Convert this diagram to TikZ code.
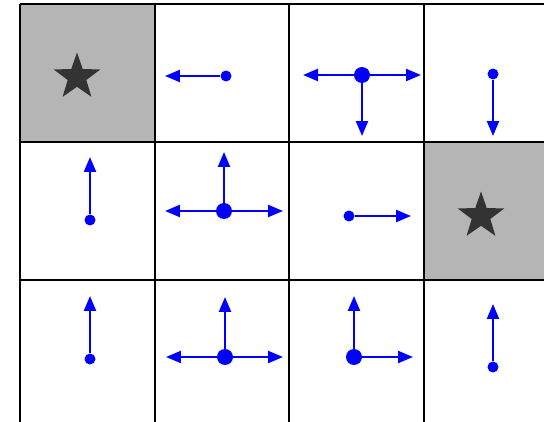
\documentclass[tikz,border=0pt]{standalone}
\usepackage{tikz}
\usetikzlibrary{arrows.meta,shapes.geometric}
\definecolor{cellGray}{RGB}{181,181,181}
\definecolor{goalDark}{RGB}{51,51,51}
\definecolor{policyBlue}{RGB}{0,0,255}

\begin{document}
\begin{tikzpicture}[x=0.02cm,y=-0.02cm,
    act/.style={policyBlue, line width=1.3pt, -{Triangle[length=0.3cm,width=0.24cm]}},
    agent/.style={circle, fill=policyBlue, inner sep=0pt, minimum size=0.22cm},
    hub/.style={circle, fill=policyBlue, inner sep=0pt, minimum size=0.32cm},
    goal/.style={star, star points=5, star point ratio=2.5, fill=goalDark, inner sep=0pt, minimum size=0.98cm}]
    \useasboundingbox (0,0) rectangle (544,422);
    % shaded goal cells
    \fill[cellGray] (20,4) rectangle (155,142);
    \fill[cellGray] (424,142) rectangle (560,280);
    % grid
    \foreach \gx in {20,155,289,424}
        \draw[black, line width=1.1pt] (\gx,4) -- (\gx,430);
    \foreach \gy in {4,142,280}
        \draw[black, line width=1.1pt] (20,\gy) -- (560,\gy);
    \node[goal] (goalA) at (77,77) {};
    \node[goal] (goalB) at (481,216) {};
    % row 1
    \node[agent] (s12) at (226,76) {};
    \coordinate (s12w) at (165,76);
    \draw[act] (s12) -- (s12w);
    \node[hub] (s13) at (362,75) {};
    \coordinate (s13w) at (303,75);
    \coordinate (s13e) at (421,75);
    \coordinate (s13s) at (362,136);
    \draw[act] (s13) -- (s13w);
    \draw[act] (s13) -- (s13e);
    \draw[act] (s13) -- (s13s);
    \node[agent] (s14) at (493,74) {};
    \coordinate (s14s) at (493,136);
    \draw[act] (s14) -- (s14s);
    % row 2
    \node[agent] (s21) at (90,220) {};
    \coordinate (s21n) at (90,157);
    \draw[act] (s21) -- (s21n);
    \node[hub] (s22) at (224,211) {};
    \coordinate (s22n) at (224,152);
    \coordinate (s22w) at (165,211);
    \coordinate (s22e) at (283,211);
    \draw[act] (s22) -- (s22n);
    \draw[act] (s22) -- (s22w);
    \draw[act] (s22) -- (s22e);
    \node[agent] (s23) at (349,216) {};
    \coordinate (s23e) at (411,216);
    \draw[act] (s23) -- (s23e);
    % row 3
    \node[agent] (s31) at (90,359) {};
    \coordinate (s31n) at (90,296);
    \draw[act] (s31) -- (s31n);
    \node[hub] (s32) at (225,357) {};
    \coordinate (s32n) at (225,297);
    \coordinate (s32w) at (166,357);
    \coordinate (s32e) at (283,357);
    \draw[act] (s32) -- (s32n);
    \draw[act] (s32) -- (s32w);
    \draw[act] (s32) -- (s32e);
    \node[hub] (s33) at (354,357) {};
    \coordinate (s33n) at (354,296);
    \coordinate (s33e) at (413,357);
    \draw[act] (s33) -- (s33n);
    \draw[act] (s33) -- (s33e);
    \node[agent] (s34) at (493,367) {};
    \coordinate (s34n) at (493,304);
    \draw[act] (s34) -- (s34n);
\end{tikzpicture}
\end{document}
